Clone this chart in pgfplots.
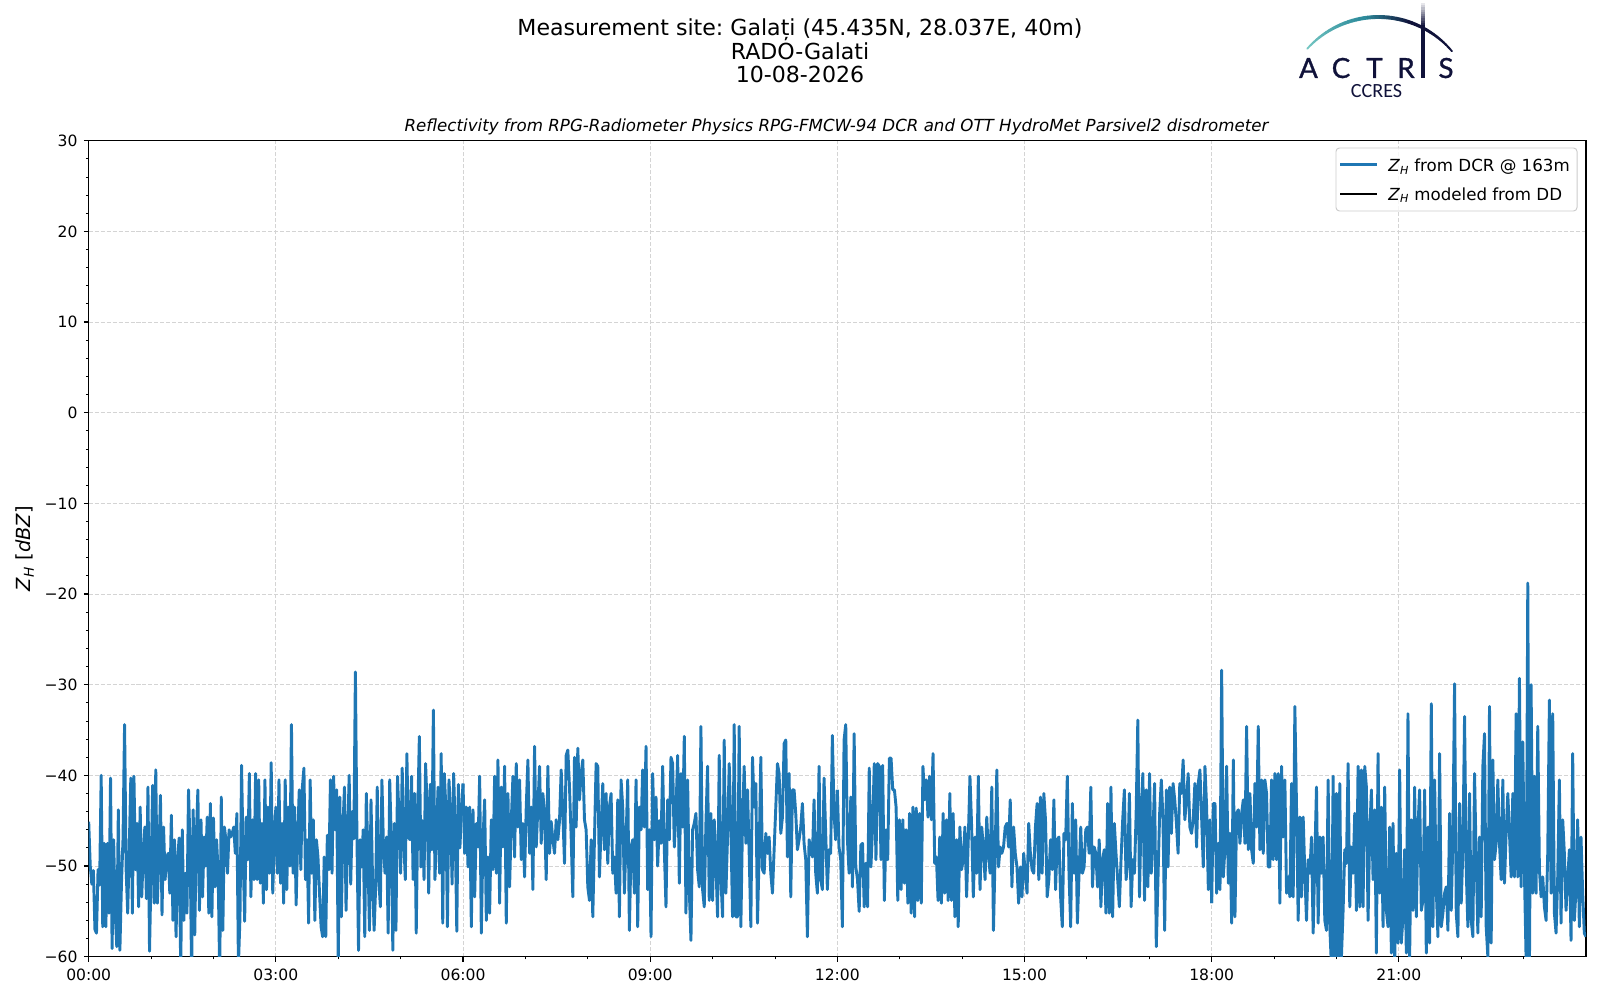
\documentclass[border=0pt]{standalone}
\usepackage{fontspec}
\setmainfont{DejaVu Sans}
\newfontfamily\logofont{Lato}[FakeBold=1]
\newfontfamily\ccresfont{Carlito}
\usepackage{pgfplots}
\usepackage{pgfplotstable}
\pgfplotsset{compat=1.18}
\definecolor{mplblue}{HTML}{1F77B4}
\definecolor{logonavy}{HTML}{10123A}
\definecolor{logoteal}{HTML}{74C6C2}
\definecolor{logomid}{HTML}{2E8C9C}

% 00:00 - 06:00
\pgfplotstableread[row sep=\\]{
v\\
-45.1\\ -50.0\\ -52.0\\ -50.5\\ -57.0\\ -57.4\\ -50.4\\ -52.1\\ -40.0\\ -56.7\\
-47.5\\ -56.7\\ -47.5\\ -55.2\\ -40.3\\ -59.1\\ -47.1\\ -55.2\\ -58.9\\ -43.8\\
-59.3\\ -52.0\\ -47.0\\ -34.4\\ -50.4\\ -55.2\\ -48.1\\ -40.3\\ -55.2\\ -40.1\\
-50.4\\ -45.3\\ -54.5\\ -43.5\\ -53.4\\ -48.6\\ -45.7\\ -53.6\\ -41.3\\ -59.4\\
-50.4\\ -41.1\\ -54.1\\ -39.4\\ -54.1\\ -49.0\\ -42.2\\ -55.4\\ -45.7\\ -51.5\\
-49.0\\ -48.6\\ -53.0\\ -44.4\\ -56.0\\ -47.1\\ -57.8\\ -49.3\\ -46.9\\ -61.5\\
-46.0\\ -56.0\\ -50.8\\ -55.2\\ -41.6\\ -47.9\\ -62.0\\ -43.8\\ -57.6\\ -46.8\\
-41.6\\ -54.9\\ -44.9\\ -53.4\\ -46.8\\ -50.0\\ -44.6\\ -55.2\\ -43.1\\ -55.6\\
-44.7\\ -52.3\\ -47.1\\ -50.8\\ -62.0\\ -42.4\\ -57.1\\ -45.7\\ -47.1\\ -50.8\\
-46.0\\ -46.8\\ -46.4\\ -45.7\\ -48.6\\ -44.2\\ -61.0\\ -55.6\\ -38.9\\ -48.6\\
-56.1\\ -44.6\\ -49.3\\ -39.8\\ -53.4\\ -44.9\\ -51.5\\ -39.8\\ -51.5\\ -40.5\\
-51.9\\ -45.3\\ -54.1\\ -40.5\\ -52.6\\ -43.5\\ -50.8\\ -38.6\\ -53.0\\ -47.0\\
-43.5\\ -50.8\\ -40.5\\ -51.9\\ -45.3\\ -54.1\\ -40.5\\ -52.6\\ -43.5\\ -50.0\\
-34.4\\ -50.8\\ -43.5\\ -54.3\\ -46.8\\ -41.6\\ -50.4\\ -41.3\\ -39.2\\ -51.5\\
-47.1\\ -56.3\\ -40.5\\ -50.8\\ -44.9\\ -56.0\\ -47.1\\ -49.0\\ -53.0\\ -56.7\\
-57.8\\ -49.0\\ -57.8\\ -46.6\\ -50.4\\ -40.5\\ -50.8\\ -40.1\\ -46.0\\ -41.6\\
-61.0\\ -42.4\\ -55.6\\ -45.7\\ -41.3\\ -54.9\\ -47.0\\ -40.0\\ -52.0\\ -44.0\\
-47.0\\ -28.6\\ -47.1\\ -59.3\\ -47.1\\ -50.1\\ -46.0\\ -57.8\\ -42.0\\ -48.6\\
-57.1\\ -42.7\\ -51.5\\ -57.1\\ -52.3\\ -41.3\\ -51.5\\ -54.5\\ -40.5\\ -47.9\\
-50.8\\ -46.8\\ -57.4\\ -40.5\\ -47.1\\ -59.3\\ -45.3\\ -57.1\\ -40.1\\ -44.9\\
-50.8\\ -39.2\\ -47.1\\ -51.5\\ -37.6\\ -46.8\\ -47.1\\ -40.1\\ -51.5\\ -42.0\\
-57.4\\ -44.0\\ -35.7\\ -50.1\\ -45.0\\ -51.5\\ -38.7\\ -43.5\\ -53.0\\ -41.0\\
-48.2\\ -32.8\\ -51.5\\ -46.4\\ -41.3\\ -50.8\\ -37.6\\ -56.3\\ -39.8\\ -43.5\\
-56.7\\ -40.5\\ -44.2\\ -52.0\\ -39.8\\ -46.0\\ -57.2\\ -41.0\\ -48.0\\ -44.0\\
-40.9\\
}\tblA

% 06:00 - 12:00
\pgfplotstableread[row sep=\\]{
v\\
-40.9\\ -48.6\\ -43.5\\ -50.1\\ -43.5\\ -56.7\\ -43.8\\ -53.4\\ -45.3\\
-47.9\\ -40.1\\ -57.4\\ -47.1\\ -42.7\\ -56.0\\ -49.0\\ -55.2\\ -44.9\\ -50.4\\
-40.1\\ -50.8\\ -38.3\\ -54.1\\ -41.3\\ -47.9\\ -39.0\\ -56.3\\ -42.0\\ -52.3\\
-45.1\\ -40.1\\ -49.0\\ -38.7\\ -45.7\\ -40.5\\ -49.3\\ -45.3\\ -51.2\\ -43.5\\
-38.3\\ -48.6\\ -43.5\\ -52.6\\ -36.8\\ -47.9\\ -43.5\\ -39.0\\ -47.5\\ -42.0\\
-44.2\\ -51.5\\ -39.0\\ -48.6\\ -45.1\\ -47.1\\ -48.6\\ -44.9\\ -47.1\\ -45.0\\
-39.4\\ -44.2\\ -49.7\\ -37.8\\ -37.2\\ -41.3\\ -46.8\\ -53.4\\ -38.0\\ -45.7\\
-37.0\\ -42.7\\ -39.8\\ -38.3\\ -44.9\\ -46.0\\ -52.3\\ -53.8\\ -47.1\\ -55.6\\
-47.1\\ -38.7\\ -39.0\\ -51.2\\ -45.7\\ -40.9\\ -48.2\\ -42.0\\ -49.7\\ -43.5\\
-42.0\\ -50.8\\ -49.0\\ -53.0\\ -42.7\\ -55.6\\ -40.5\\ -43.5\\ -53.0\\ -47.1\\
-40.5\\ -57.1\\ -47.9\\ -47.1\\ -53.0\\ -40.5\\ -56.7\\ -43.5\\ -46.0\\ -39.4\\
-45.7\\ -36.8\\ -52.6\\ -46.0\\ -57.8\\ -39.8\\ -47.1\\ -42.4\\ -50.0\\ -45.0\\
-47.5\\ -39.0\\ -48.2\\ -54.5\\ -42.7\\ -47.1\\ -38.0\\ -38.7\\ -47.9\\ -44.0\\
-37.8\\ -51.9\\ -39.8\\ -45.7\\ -35.7\\ -55.2\\ -40.5\\ -52.6\\ -58.2\\ -46.0\\
-45.3\\ -44.2\\ -50.4\\ -52.3\\ -34.6\\ -52.6\\ -54.5\\ -45.3\\ -39.0\\ -53.8\\
-44.2\\ -53.8\\ -44.9\\ -49.7\\ -55.6\\ -37.8\\ -51.2\\ -55.6\\ -36.1\\ -53.0\\
-46.8\\ -38.7\\ -45.7\\ -55.6\\ -34.4\\ -55.6\\ -55.6\\ -34.6\\ -56.7\\ -45.0\\
-39.0\\ -47.5\\ -41.6\\ -48.6\\ -56.7\\ -38.0\\ -43.5\\ -40.9\\ -56.3\\ -48.6\\
-38.0\\ -50.4\\ -50.8\\ -46.4\\ -48.6\\ -46.8\\ -50.8\\ -53.0\\ -48.2\\ -43.5\\
-38.7\\ -39.8\\ -46.4\\ -44.6\\ -36.5\\ -36.1\\ -49.0\\ -39.8\\ -53.4\\ -41.6\\
-41.6\\ -44.2\\ -48.2\\ -47.1\\ -45.7\\ -43.1\\ -47.5\\ -49.3\\ -57.8\\ -47.1\\
-47.9\\ -49.0\\ -42.7\\ -50.8\\ -53.0\\ -39.0\\ -51.5\\ -52.6\\ -40.3\\ -46.4\\
-52.6\\ -48.2\\ -48.6\\ -35.6\\ -44.2\\ -47.1\\
-41.6\\
}\tblB

% 12:00 - 18:00
\pgfplotstableread[row sep=\\]{
v\\
-41.6\\ -47.9\\ -49.3\\ -56.7\\ -36.1\\ -34.4\\ -47.1\\ -50.8\\ -42.4\\ -52.3\\
-35.4\\ -50.1\\ -51.5\\ -55.0\\ -47.7\\ -47.5\\ -54.5\\ -49.7\\ -54.5\\ -39.2\\
-50.1\\ -45.7\\ -38.7\\ -49.3\\ -38.7\\ -39.0\\ -49.3\\ -38.9\\ -53.8\\ -46.0\\
-49.3\\ -38.1\\ -38.1\\ -41.6\\ -41.6\\ -43.5\\ -53.8\\ -44.9\\ -52.6\\ -44.9\\
-51.9\\ -46.0\\ -54.1\\ -44.2\\ -55.2\\ -43.5\\ -55.6\\ -43.6\\ -53.8\\ -44.2\\
-54.1\\ -39.0\\ -42.7\\ -40.5\\ -44.6\\ -40.1\\ -44.9\\ -37.6\\ -49.7\\ -49.0\\
-53.8\\ -46.8\\ -54.1\\ -44.2\\ -53.0\\ -44.9\\ -53.8\\ -42.0\\ -53.8\\ -44.2\\
-55.6\\ -47.1\\ -56.7\\ -45.7\\ -50.4\\ -49.3\\ -45.7\\ -53.4\\ -47.1\\ -40.1\\
-45.7\\ -53.4\\ -46.8\\ -50.8\\ -40.1\\ -52.6\\ -45.7\\ -47.9\\ -51.5\\ -44.6\\
-48.6\\ -50.8\\ -41.3\\ -57.1\\ -48.6\\ -39.4\\ -50.1\\ -47.9\\ -48.6\\ -47.9\\
-45.7\\ -45.3\\ -47.9\\ -42.7\\ -52.3\\ -45.7\\ -48.6\\ -50.1\\ -54.1\\ -50.1\\
-53.4\\ -48.6\\ -50.8\\ -53.0\\ -45.3\\ -48.6\\ -50.4\\ -50.8\\ -45.7\\ -43.1\\
-51.5\\ -42.4\\ -50.8\\ -42.0\\ -44.9\\ -53.4\\ -51.5\\ -47.1\\ -50.4\\ -42.7\\
-52.6\\ -47.1\\ -46.8\\ -53.4\\ -56.7\\ -46.4\\ -47.1\\ -40.1\\ -50.8\\ -56.7\\
-43.1\\ -50.8\\ -44.9\\ -56.3\\ -50.8\\ -45.7\\ -50.8\\ -50.1\\ -46.0\\ -45.7\\
-48.6\\ -41.3\\ -52.3\\ -47.9\\ -48.6\\ -52.3\\ -47.1\\ -54.5\\ -49.3\\ -48.2\\
-55.2\\ -43.1\\ -55.2\\ -41.3\\ -55.6\\ -45.3\\ -48.6\\ -51.5\\ -54.5\\ -49.3\\
-44.9\\ -41.6\\ -51.5\\ -49.7\\ -42.0\\ -54.5\\ -49.3\\ -50.8\\ -44.2\\ -33.9\\
-53.4\\ -43.8\\ -39.8\\ -53.8\\ -41.6\\ -52.3\\ -39.8\\ -50.8\\ -46.4\\ -40.9\\
-58.9\\ -51.5\\ -44.2\\ -40.5\\ -44.9\\ -57.1\\ -41.6\\ -50.1\\ -41.3\\ -46.4\\
-40.9\\ -42.7\\ -45.3\\ -48.6\\ -40.9\\ -42.0\\ -38.3\\ -44.9\\ -42.7\\ -39.8\\
-45.7\\ -46.4\\ -44.9\\ -40.9\\ -47.9\\ -40.9\\ -39.4\\ -44.6\\ -50.1\\ -39.0\\
-43.5\\ -52.6\\ -44.9\\
-54.1\\
}\tblC

% 18:00 - 24:00
\pgfplotstableread[row sep=\\]{
v\\
-54.1\\ -43.1\\ -43.1\\ -53.0\\
-47.5\\ -52.6\\ -28.4\\ -51.2\\ -47.9\\ -39.0\\ -51.9\\ -46.4\\ -56.3\\ -38.3\\
-55.6\\ -44.2\\ -43.8\\ -47.5\\ -44.2\\ -42.7\\ -47.5\\ -34.6\\ -48.2\\ -42.0\\
-48.2\\ -49.7\\ -40.9\\ -45.7\\ -34.6\\ -48.2\\ -40.5\\ -48.6\\ -40.5\\ -42.0\\
-50.1\\ -50.1\\ -40.5\\ -49.3\\ -39.8\\ -49.3\\ -39.8\\ -54.1\\ -39.0\\ -46.8\\
-40.5\\ -53.0\\ -51.2\\ -53.4\\ -40.9\\ -53.4\\ -32.4\\ -43.5\\ -56.0\\ -44.6\\
-53.4\\ -44.6\\ -50.8\\ -56.0\\ -49.3\\ -50.8\\ -46.8\\ -57.4\\ -49.3\\ -41.3\\
-56.3\\ -46.8\\ -50.8\\ -46.8\\ -56.0\\ -57.1\\ -40.5\\ -56.7\\ -61.1\\ -40.1\\
-61.1\\ -42.0\\ -61.5\\ -40.9\\ -60.0\\ -54.9\\ -48.2\\ -49.7\\ -38.7\\ -54.5\\
-47.9\\ -50.8\\ -44.2\\ -54.9\\ -39.0\\ -54.5\\ -39.4\\ -54.5\\ -39.0\\ -41.3\\
-56.0\\ -46.4\\ -41.6\\ -51.5\\ -43.8\\ -59.6\\ -37.6\\ -53.0\\ -43.5\\ -56.7\\
-41.3\\ -54.9\\ -56.7\\ -45.7\\ -59.6\\ -45.3\\ -60.7\\ -48.6\\ -58.5\\ -39.4\\
-58.5\\ -55.6\\ -48.2\\ -59.6\\ -33.2\\ -60.0\\ -44.9\\ -54.9\\ -41.3\\ -55.6\\
-45.7\\ -41.6\\ -54.9\\ -53.8\\ -41.6\\ -59.6\\ -45.7\\ -58.5\\ -32.1\\ -56.7\\
-40.5\\ -52.6\\ -57.8\\ -37.6\\ -56.7\\ -55.2\\ -53.0\\ -52.3\\ -57.1\\ -44.2\\
-54.9\\ -46.8\\ -29.9\\ -55.2\\ -57.8\\ -43.1\\ -54.1\\ -48.2\\ -33.5\\ -50.4\\
-56.7\\ -42.0\\ -56.0\\ -57.8\\ -39.8\\ -49.3\\ -57.4\\ -46.8\\ -55.6\\ -39.0\\
-35.4\\ -56.7\\ -60.0\\ -32.4\\ -58.5\\ -38.3\\ -49.3\\ -47.5\\ -40.5\\ -47.5\\
-51.5\\ -40.5\\ -51.9\\ -46.4\\ -42.0\\ -46.4\\ -51.2\\ -42.0\\ -51.2\\ -33.2\\
-51.2\\ -29.3\\ -52.3\\ -36.3\\ -50.8\\ -60.4\\ -18.8\\ -61.1\\ -30.0\\ -53.0\\
-40.1\\ -53.0\\ -34.6\\ -50.4\\ -53.4\\ -51.2\\ -54.5\\ -56.0\\ -48.6\\ -31.7\\
-53.0\\ -33.2\\ -55.2\\ -57.4\\ -51.2\\ -40.5\\ -56.3\\ -44.9\\ -48.6\\ -54.9\\
-51.5\\ -48.2\\ -58.2\\ -37.6\\ -56.0\\ -52.6\\ -44.9\\ -56.7\\ -46.8\\ -53.0\\ -57.4\\ -57.8\\
}\tblD

\pgfplotstablegetrowsof{\tblA}\let\NA\pgfplotsretval
\pgfplotstablegetrowsof{\tblB}\let\NB\pgfplotsretval
\pgfplotstablegetrowsof{\tblC}\let\NC\pgfplotsretval
\pgfplotstablegetrowsof{\tblD}\let\ND\pgfplotsretval

\begin{document}
\frenchspacing
\begin{tikzpicture}
\useasboundingbox (-63.864pt,-31.176pt) rectangle (1088.136pt,688.824pt);
\begin{axis}[
  at={(0pt,0pt)}, anchor=south west,
  scale only axis, width=1078.06pt, height=587.52pt,
  xmin=0, xmax=24, ymin=-60, ymax=30,
  xtick={0,3,...,21},
  xticklabels={00:00,03:00,06:00,09:00,12:00,15:00,18:00,21:00},
  minor xtick={1,2,4,5,7,8,10,11,13,14,16,17,19,20,22,23},
  ytick={-60,-50,...,30},
  yticklabels={−60,−50,−40,−30,−20,−10,0,10,20,30},
  minor y tick num=4,
  tick pos=left, tick align=outside,
  major tick length=3.5pt, minor tick length=2pt,
  every major tick/.style={black, line width=0.8pt},
  every minor tick/.style={black, line width=0.6pt},
  axis line style={line width=0.8pt},
  grid=major,
  major grid style={dash pattern=on 2.9pt off 1.4pt, color=black!17, line width=0.6pt},
  ticklabel style={font=\fontsize{11.2}{13}\selectfont},
  xticklabel style={inner sep=0pt, anchor=north, yshift=-5.36pt},
  yticklabel style={inner sep=0pt, anchor=east, xshift=-4.4pt},
]
\addplot[mplblue, line width=2.1pt, line join=round, mark=none]
  table[x expr={6*\coordindex/(\NA-1)}, y=v] {\tblA};
\addplot[mplblue, line width=2.1pt, line join=round, mark=none]
  table[x expr={6+6*\coordindex/(\NB-1)}, y=v] {\tblB};
\addplot[mplblue, line width=2.1pt, line join=round, mark=none]
  table[x expr={12+6*\coordindex/(\NC-1)}, y=v] {\tblC};
\addplot[mplblue, line width=2.1pt, line join=round, mark=none]
  table[x expr={18+6*\coordindex/(\ND-1)}, y=v] {\tblD};
\end{axis}

\begin{scope}[shift={(-63.864pt,688.824pt)}, x=0.72pt, y=-0.72pt]
  % titles
  \node[anchor=base, inner sep=0pt, font=\fontsize{15.9}{19}\selectfont] at (800,36) {Measurement site: Galați (45.435N, 28.037E, 40m)};
  \node[anchor=base, inner sep=0pt, font=\fontsize{15.9}{19}\selectfont] at (800,59.3) {RADO-Galati};
  \node[anchor=base, inner sep=0pt, font=\fontsize{15.9}{19}\selectfont] at (800,82.7) {10-08-2026};
  \node[anchor=base, inner sep=0pt, font=\fontsize{12}{14}\selectfont\itshape] at (836.5,131.7) {Reflectivity from RPG-Radiometer Physics RPG-FMCW-94 DCR and OTT HydroMet Parsivel2 disdrometer};
  % y label
  \node[rotate=90, inner sep=0pt, font=\fontsize{14}{16}\selectfont] at (25,548.7) {\textit{Z}\textsubscript{\textit{H}} [\textit{dBZ}]};
  % legend
  \draw[black!20, fill=white, fill opacity=0.8, rounded corners=2.5pt, line width=0.7pt] (1336,148) rectangle (1577,211);
  \draw[mplblue, line width=2pt] (1340,164.3) -- (1377,164.3);
  \draw[black, line width=2pt] (1340,194) -- (1377,194);
  \node[anchor=base west, inner sep=0pt, font=\fontsize{12}{14}\selectfont] at (1388,171.7) {\textit{Z}\textsubscript{\textit{H}} from DCR @ 163m};
  \node[anchor=base west, inner sep=0pt, font=\fontsize{12}{14}\selectfont] at (1388,200.5) {\textit{Z}\textsubscript{\textit{H}} modeled from DD};
  % logo arc
  \foreach \i in {0,...,39} {
    \pgfmathsetmacro\aa{-48+98*\i/40}
    \pgfmathsetmacro\ab{-48+98*(\i+1)/40}
    \pgfmathsetmacro\lw{1.3+1.5*sin(180*(\i+0.5)/40)}
    \ifnum\i<16
      \pgfmathtruncatemacro\pp{100*\i/15}
      \colorlet{arccol}{logomid!\pp!logoteal}
    \else
      \ifnum\i<28
        \pgfmathtruncatemacro\pp{100*(\i-16)/11}
        \colorlet{arccol}{logonavy!\pp!logomid}
      \else
        \colorlet{arccol}{logonavy}
      \fi
    \fi
    \draw[arccol, line width=\lw pt, line cap=round]
      ({1378.5+95.9*sin(\aa)},{112.9-95.9*cos(\aa)}) -- ({1378.5+95.9*sin(\ab)},{112.9-95.9*cos(\ab)});
  }
  % vertical stroke (the I)
  \foreach \j in {0,...,10} {
    \pgfmathtruncatemacro\pp{10+9*\j}
    \draw[logonavy!\pp!white, line width=2.2pt] (1423,{3+2.2*\j}) -- (1423,{3+2.2*(\j+1)});
  }
  \draw[logonavy, line width=2.2pt] (1423,26.5) -- (1423,78);
  % letters
  \begin{scope}[every node/.style={anchor=base, inner sep=0pt, text=logonavy, font=\logofont\fontsize{20}{24}\selectfont}]
    \node at (1308.5,78) {A};
    \node at (1341,78) {C};
    \node at (1374.5,78) {T};
    \node at (1406,78) {R};
    \node at (1446,78) {S};
  \end{scope}
  \node[anchor=base, inner sep=0pt, text=logonavy, font=\ccresfont\fontsize{14.5}{17}\selectfont] at (1376.5,98) {CCRES};
\end{scope}
\end{tikzpicture}
\end{document}
